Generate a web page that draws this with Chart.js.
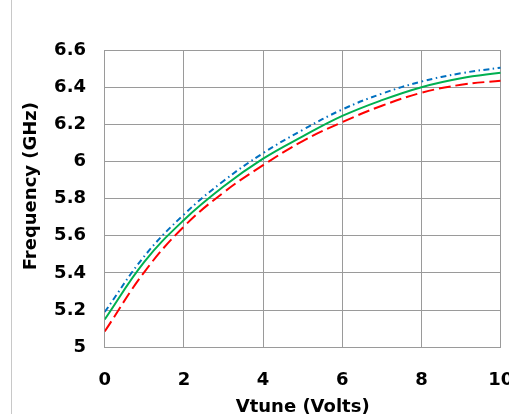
<!DOCTYPE html>
<html>
<head>
<meta charset="utf-8">
<script src="https://cdn.jsdelivr.net/npm/chart.js@4.4.1/dist/chart.umd.min.js"></script>
<style>
  html, body { margin: 0; padding: 0; background: #fff; overflow: hidden; width: 509px; height: 414px; }
  #chart { position: absolute; left: 0; top: 0; }
  #frame { position: absolute; left: 11px; top: 0; width: 1px; height: 414px; background: #c8c8c8; z-index: 2; }
</style>
</head>
<body>
<canvas id="chart" width="540" height="430"></canvas>
<div id="frame"></div>
<script>
// Values
const vtune     = [0, 1, 2, 3, 4, 5, 6, 7, 8, 9, 10];
const freqBlue  = [5.19, 5.49, 5.715, 5.895, 6.045, 6.17, 6.28, 6.365, 6.43, 6.475, 6.505];
const freqGreen = [5.15, 5.46, 5.685, 5.865, 6.015, 6.135, 6.245, 6.33, 6.40, 6.448, 6.478];
const freqRed   = [5.085, 5.405, 5.65, 5.833, 5.98, 6.11, 6.212, 6.30, 6.37, 6.413, 6.435];

const xTicks = [0, 2, 4, 6, 8, 10];
const yTicks = [5, 5.2, 5.4, 5.6, 5.8, 6, 6.2, 6.4, 6.6];
const yTickLabels = ["5", "5.2", "5.4", "5.6", "5.8", "6", "6.2", "6.4", "6.6"];

const GRID = "#9a9a9a";
const FONT = { family: "DejaVu Sans", weight: "bold", size: 18 };

function series(ys, color, dash) {
  return {
    data: vtune.map((x, i) => ({ x, y: ys[i] })),
    borderColor: color,
    borderWidth: 2,
    borderDash: dash,
    pointRadius: 0,
    tension: 0.4,
    fill: false,
  };
}

new Chart(document.getElementById("chart").getContext("2d"), {
  type: "line",
  data: {
    datasets: [
      series(freqBlue, "#0070c0", [6, 3.5, 1.5, 3.5]),
      series(freqGreen, "#00b050", []),
      series(freqRed, "#ff0000", [12, 5]),
    ],
  },
  options: {
    responsive: false,
    devicePixelRatio: 1,
    animation: false,
    layout: { padding: { left: 0, top: 50, right: 39.3, bottom: 0 } },
    plugins: { legend: { display: false }, tooltip: { enabled: false } },
    scales: {
      x: {
        type: "linear",
        min: 0,
        max: 10,
        afterBuildTicks: (s) => { s.ticks = xTicks.map((v) => ({ value: v })); },
        afterFit: (s) => { s.height = 82.7; },
        ticks: { color: "#000", font: FONT, padding: 22, maxRotation: 0 },
        grid: { color: GRID, lineWidth: 1, drawTicks: false },
        border: { color: GRID, width: 1 },
        title: { display: true, text: "Vtune (Volts)", color: "#000", font: FONT, padding: { top: 0, bottom: 12 } },
      },
      y: {
        type: "linear",
        min: 5,
        max: 6.6,
        afterBuildTicks: (s) => { s.ticks = yTicks.map((v) => ({ value: v })); },
        afterFit: (s) => { s.width = 104.7; },
        ticks: { color: "#000", font: FONT, padding: 18.7, callback: (v, i) => yTickLabels[i] },
        grid: { color: GRID, lineWidth: 1, drawTicks: false },
        border: { color: GRID, width: 1 },
        title: { display: true, text: "    Frequency (GHz)", color: "#000", font: FONT, padding: { top: 21, bottom: 0 } },
      },
    },
  },
});
</script>
</body>
</html>
